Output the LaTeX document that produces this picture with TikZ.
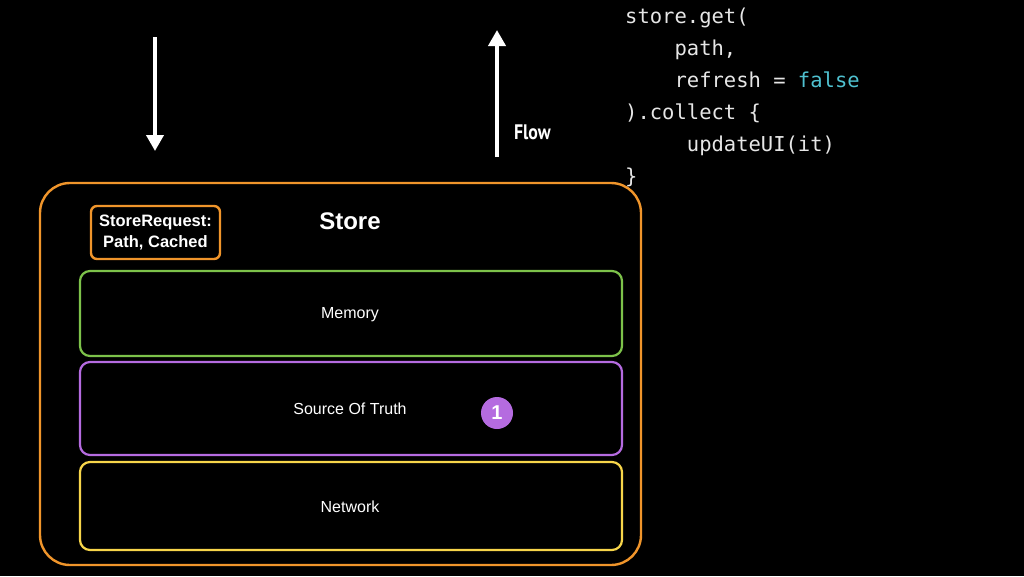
\documentclass[tikz,border=0pt]{standalone}
\usepackage{fontspec}
\setmainfont{Liberation Sans}
\newfontfamily\codefont{DejaVu Sans Mono}
\newfontfamily\flowfont{PT Sans}
\usetikzlibrary{arrows.meta}
\definecolor{orng}{HTML}{F0952B}
\definecolor{grn}{HTML}{7DC24A}
\definecolor{prpl}{HTML}{B56BE0}
\definecolor{ylw}{HTML}{F7D54A}
\definecolor{codec}{HTML}{E6E6E6}
\definecolor{kw}{HTML}{4FC1D0}
\tikzset{
  layer/.style={draw=#1, line width=2.2pt, rounded corners=10pt},
  lbl/.style={text=white, font=\fontsize{16}{18}\selectfont},
  codeline/.style={anchor=base west, text=codec, inner sep=0pt, font=\codefont\fontsize{20.5}{24}\selectfont},
  bigarrow/.style={draw=white, line width=3.8pt, -{Triangle[width=17pt,length=16pt]}}
}
\begin{document}
\begin{tikzpicture}[x=1pt,y=-1pt]
\fill[black] (0,0) rectangle (1024,576);
\useasboundingbox (0,0) rectangle (1024,576);
% outer store
\draw[draw=orng, line width=2.4pt, rounded corners=30pt] (40,183) rectangle (641,565);
\node[draw=orng, line width=2.4pt, rounded corners=6pt, minimum width=129pt, minimum height=53pt, inner sep=0pt, align=center, text=white, font=\bfseries\fontsize{16.5}{21.5}\selectfont] (req) at (155.5,232.5) {StoreRequest:\\Path, Cached};
\node[text=white, font=\bfseries\fontsize{24}{28}\selectfont] (store) at (350,221) {Store};
% layers
\draw[layer=grn] (80,271) rectangle (622,356);
\node[lbl] (mem) at (350,315) {Memory};
\draw[layer=prpl] (80,362) rectangle (622,455);
\node[lbl] (sot) at (350,409) {Source Of Truth};
\draw[layer=ylw] (80,462) rectangle (622,550);
\node[lbl] (net) at (350,507) {Network};
\node[circle, fill=prpl, minimum size=32pt, inner sep=0pt, text=white, font=\bfseries\fontsize{20}{22}\selectfont] (one) at (497,413) {1};
% arrows
\coordinate (d1) at (155,37);
\coordinate (d2) at (155,151);
\draw[bigarrow] (d1) -- (d2);
\coordinate (u1) at (497,157);
\coordinate (u2) at (497,30);
\draw[bigarrow] (u1) -- (u2);
\node[text=white, anchor=west, font=\flowfont\bfseries\fontsize{21}{24}\selectfont, xscale=0.85] (flow) at (511,132) {Flow};
% code
\node[codeline] (c1) at (625,23) {store.get(};
\node[codeline] (c2) at (625,55) {\ \ \ \ path,};
\node[codeline] (c3) at (625,87) {\ \ \ \ refresh = \textcolor{kw}{false}};
\node[codeline] (c4) at (625,119) {).collect \{};
\node[codeline] (c5) at (625,151) {\ \ \ \ \ updateUI(it)};
\node[codeline] (c6) at (625,183) {\}};
\end{tikzpicture}
\end{document}
